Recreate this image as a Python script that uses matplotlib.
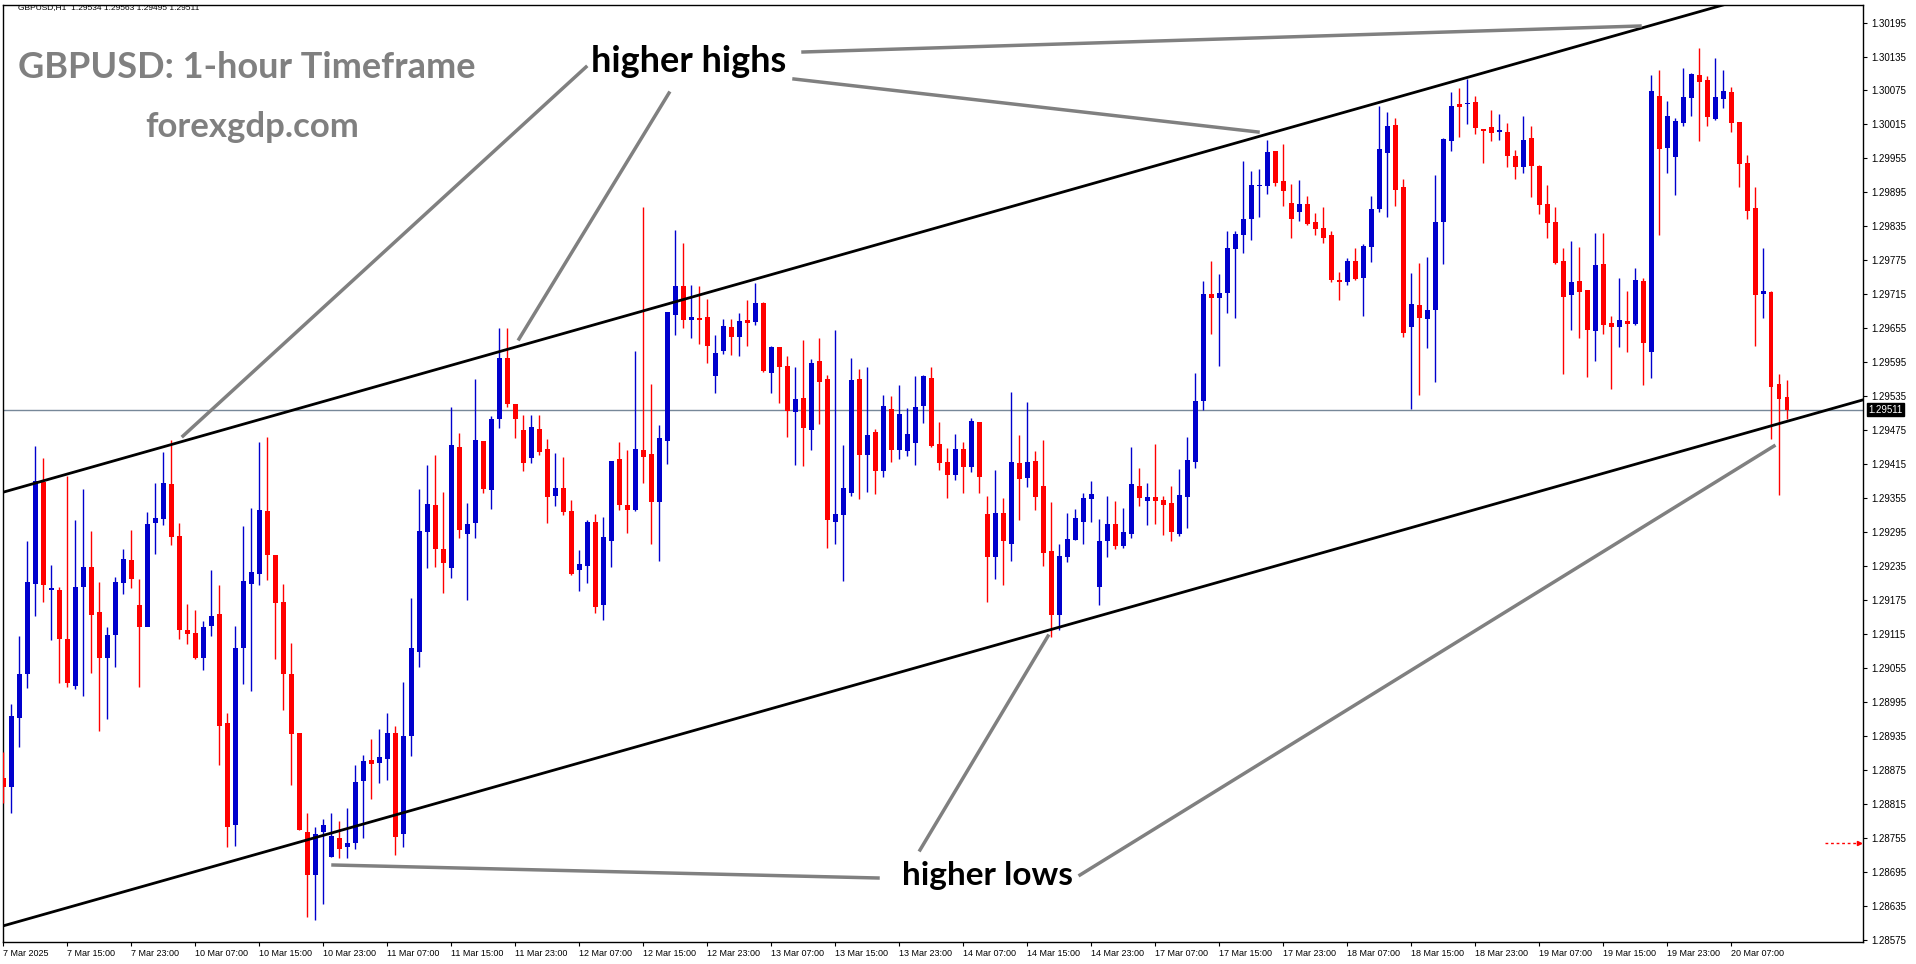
import matplotlib
matplotlib.use("Agg")
import matplotlib.pyplot as plt
from matplotlib.lines import Line2D
import numpy as np

# OHLC in units of 1e-5 above 1.0 (e.g. 29511 -> 1.29511), hourly GBPUSD
opens = [28860,28844,28966,29044,29203,29383,29192,29192,29106,29024,
29198,29233,29153,29072,29113,29205,29245,29166,29127,29311,
29318,29380,29288,29122,29117,29072,29129,29150,28957,28777,
29090,29203,29221,29332,29254,29171,29044,28941,28766,28690,
28766,28722,28754,28738,28746,28855,28892,28888,28895,28941,
28762,28934,29084,29295,29343,29265,29231,29445,29292,29311,
29456,29369,29495,29603,29522,29476,29426,29477,29442,29359,
29373,29332,29228,29235,29313,29166,29279,29424,29343,29334,
29440,29433,29348,29456,29679,29730,29670,29673,29675,29571,
29614,29657,29640,29670,29666,29700,29576,29622,29589,29507,
29532,29476,29598,29566,29313,29325,29364,29566,29431,29472,
29403,29513,29440,29438,29453,29518,29568,29451,29419,29396,
29442,29410,29490,29327,29251,29329,29274,29417,29391,29421,
29377,29262,29148,29251,29281,29313,29354,29198,29279,29309,
29270,29292,29377,29350,29357,29352,29346,29292,29357,29419,
29527,29716,29709,29718,29795,29820,29848,29906,29906,29968,
29915,29877,29861,29875,29843,29832,29820,29741,29737,29774,
29744,29799,29866,29965,30014,29905,29658,29696,29672,29688,
29843,29986,30051,30051,30055,30006,30011,30002,30002,29960,
29940,29991,29942,29875,29843,29774,29713,29739,29723,29650,
29769,29665,29658,29668,29663,29739,29613,30066,29974,29958,
30018,30062,30103,30094,30025,30060,30073,30020,29947,29868,
29716,29719,29557,29534]
highs = [28906,28992,29111,29279,29447,29426,29237,29198,29394,29316,
29371,29297,29207,29127,29215,29265,29299,29212,29330,29382,
29437,29458,29311,29168,29157,29138,29228,29201,28975,29129,
29306,29338,29454,29463,29254,29203,29099,28941,28799,28775,
28789,28798,28785,28808,28884,28902,28930,28948,28975,28952,
29030,29178,29371,29414,29431,29366,29516,29470,29346,29566,
29456,29500,29656,29656,29522,29502,29502,29502,29460,29435,
29428,29352,29263,29316,29327,29322,29421,29454,29440,29614,
29870,29557,29484,29683,29828,29806,29732,29729,29707,29644,
29672,29672,29682,29705,29735,29702,29624,29622,29606,29587,
29635,29601,29638,29573,29652,29449,29603,29583,29587,29477,
29537,29536,29555,29515,29571,29573,29587,29490,29444,29469,
29454,29497,29490,29359,29405,29355,29543,29467,29525,29439,
29458,29348,29274,29329,29336,29364,29385,29318,29359,29350,
29338,29446,29408,29382,29451,29359,29377,29407,29463,29576,
29739,29774,29751,29827,29827,29951,29933,29936,29988,29968,
29981,29910,29917,29889,29859,29869,29827,29755,29779,29797,
29804,29889,30048,30037,30027,29919,29753,29771,29781,29926,
29991,30073,30080,30096,30066,30006,30041,30034,30018,29970,
30030,30013,29944,29908,29869,29797,29809,29799,29723,29824,
29824,29677,29744,29721,29762,29744,30103,30111,30057,30027,
30115,30106,30150,30101,30133,30111,30081,30020,29961,29905,
29797,29721,29575,29563]
lows = [28817,28798,28915,29019,29146,29171,29104,29028,29022,29017,
29005,29047,28943,28964,29056,29185,29196,29022,29139,29256,
29307,29272,29106,29097,29070,29051,29111,28883,28738,28741,
29026,29015,29201,29210,29070,28980,28849,28768,28615,28610,
28638,28722,28720,28720,28736,28754,28824,28851,28858,28725,
28738,28900,29056,29231,29233,29187,29214,29284,29175,29284,
29364,29336,29479,29516,29461,29403,29417,29431,29311,29341,
29325,29219,29191,29205,29152,29139,29233,29334,29293,29332,
29382,29274,29244,29415,29644,29656,29638,29628,29594,29541,
29610,29608,29606,29624,29661,29578,29541,29523,29463,29414,
29412,29440,29486,29267,29274,29209,29359,29354,29366,29362,
29393,29419,29424,29430,29414,29488,29446,29405,29356,29387,
29364,29401,29364,29171,29212,29201,29244,29316,29375,29334,
29235,29110,29122,29242,29281,29274,29313,29166,29251,29265,
29267,29284,29341,29307,29309,29290,29279,29288,29302,29408,
29511,29645,29589,29682,29673,29788,29811,29852,29892,29906,
29871,29815,29845,29838,29820,29806,29737,29705,29732,29740,
29677,29772,29861,29852,29871,29640,29513,29537,29620,29560,
29769,29968,29993,30016,29998,29947,29986,29988,29940,29919,
29930,29887,29857,29815,29769,29575,29652,29638,29569,29598,
29645,29548,29622,29613,29661,29555,29568,29820,29930,29891,
30013,30030,29986,30013,30023,30044,30002,29905,29848,29624,
29673,29460,29361,29495]
closes = [28844,28971,29044,29207,29385,29201,29196,29106,29028,29198,
29233,29148,29072,29113,29207,29247,29212,29127,29309,29320,
29382,29286,29122,29115,29072,29127,29146,28953,28775,29090,
29208,29224,29334,29254,29169,29044,28939,28768,28690,28762,
28777,28759,28736,28746,28853,28890,28886,28897,28941,28757,
28934,29090,29297,29345,29265,29240,29449,29299,29309,29458,
29371,29495,29603,29522,29495,29417,29481,29437,29357,29373,
29330,29221,29238,29313,29162,29286,29421,29343,29334,29442,
29428,29348,29461,29683,29729,29670,29675,29670,29624,29612,
29659,29640,29668,29665,29700,29580,29622,29587,29509,29530,
29479,29594,29560,29316,29327,29373,29564,29431,29467,29403,
29518,29440,29504,29469,29516,29571,29447,29417,29396,29442,
29410,29492,29393,29251,29329,29279,29419,29389,29419,29357,
29258,29148,29253,29283,29320,29355,29362,29279,29309,29270,
29295,29380,29355,29357,29350,29343,29295,29361,29422,29527,
29716,29709,29718,29797,29822,29848,29908,29908,29967,29912,
29898,29848,29875,29839,29831,29815,29741,29737,29774,29742,
29801,29866,29972,30013,29900,29647,29698,29673,29688,29843,
29990,30048,30046,30053,30009,30004,30000,30004,29960,29940,
29988,29942,29873,29841,29771,29711,29737,29719,29652,29767,
29661,29658,29670,29663,29741,29629,30074,29972,30030,30021,
30064,30104,30090,30028,30064,30074,30018,29945,29862,29714,
29721,29552,29530,29511]

x_labels = ["7 Mar 2025","7 Mar 15:00","7 Mar 23:00","10 Mar 07:00","10 Mar 15:00",
"10 Mar 23:00","11 Mar 07:00","11 Mar 15:00","11 Mar 23:00","12 Mar 07:00",
"12 Mar 15:00","12 Mar 23:00","13 Mar 07:00","13 Mar 15:00","13 Mar 23:00",
"14 Mar 07:00","14 Mar 15:00","14 Mar 23:00","17 Mar 07:00","17 Mar 15:00",
"17 Mar 23:00","18 Mar 07:00","18 Mar 15:00","18 Mar 23:00","19 Mar 07:00",
"19 Mar 15:00","19 Mar 23:00","20 Mar 07:00"]
label_step = 8
y_ticks = [1.28575 + 0.0006 * k for k in range(28)]
last_price = 1.29511
upper_channel = [(-0.4, 1.29364), (205.0, 1.30186)]
lower_channel = [(-0.4, 1.28598), (224.6, 1.29497)]

O = 1 + np.array(opens) / 1e5
H = 1 + np.array(highs) / 1e5
L = 1 + np.array(lows) / 1e5
C = 1 + np.array(closes) / 1e5
n = len(O)
idx = np.arange(n)

W, Hh = 1916, 964
fig = plt.figure(figsize=(W / 100, Hh / 100), dpi=100)
fig.patch.set_facecolor("white")
ax = fig.add_axes([3 / W, 1 - 942 / Hh, (1863 - 3) / W, (942 - 5) / Hh])
ax.set_xlim(-0.05, 232.5)
ax.set_ylim(1.28571, 1.30226)

blue = "#0000CD"
red = "#FF0000"
cols = [blue if c >= o else red for o, c in zip(O, C)]
ax.vlines(idx, L, H, colors=cols, linewidth=1.0, zorder=3)
bot = np.minimum(O, C)
hgt = np.maximum(np.abs(C - O), 0.000025)
ax.bar(idx, hgt, bottom=bot, width=0.62, color=cols, linewidth=0, zorder=4)

ax.axhline(last_price, color="#778899", linewidth=1.0, zorder=2)

for (x0, y0), (x1, y1) in (upper_channel, lower_channel):
    s = (y1 - y0) / (x1 - x0)
    xs = np.array([-5, 240])
    ax.plot(xs, y0 + s * (xs - x0), color="black", linewidth=2.0, zorder=5)

ax.plot([227.8, 232.3], [1.28746, 1.28746], color="red", linestyle=(0, (2, 2)), linewidth=1, zorder=5)
ax.plot([232.0], [1.28746], marker=">", color="red", markersize=3, zorder=5)

for sp in ax.spines.values():
    sp.set_color("black")
    sp.set_linewidth(1)
ax.yaxis.tick_right()
ax.set_yticks(y_ticks)
ax.set_yticklabels([f"{v:.5f}" for v in y_ticks], fontsize=7, family="Liberation Sans")
ax.tick_params(axis="y", length=3, pad=3, colors="black")
xt = [i * label_step for i in range(len(x_labels))]
ax.set_xticks(xt)
ax.set_xticklabels(x_labels, fontsize=6.5, ha="left", family="Liberation Sans")
ax.tick_params(axis="x", length=3, pad=2)

ax.annotate(f"{last_price:.5f}", xy=(1.0, last_price), xycoords=("axes fraction", "data"),
            xytext=(4, 0), textcoords="offset points", va="center", ha="left",
            fontsize=7, color="white", family="Liberation Sans",
            bbox=dict(boxstyle="square,pad=0.15", fc="black", ec="black"))

fig.text(18 / W, 1 - 8 / Hh, "GBPUSD,H1  1.29534 1.29563 1.29495 1.29511",
         fontsize=6, va="center", ha="left", color="black", family="Liberation Sans")

fig.text(18 / W, 1 - 68 / Hh, "GBPUSD: 1-hour Timeframe", fontsize=26, fontweight="bold",
         color="#808080", va="center", ha="left", family="Lato")
fig.text(252 / W, 1 - 127 / Hh, "forexgdp.com", fontsize=25, fontweight="bold",
         color="#808080", va="center", ha="center", family="Lato")
fig.text(689 / W, 1 - 62 / Hh, "higher highs", fontsize=26, fontweight="bold",
         color="black", va="center", ha="center", family="Lato")
fig.text(988 / W, 1 - 876 / Hh, "higher lows", fontsize=24, fontweight="bold",
         color="black", va="center", ha="center", family="Lato")

pointers = [((586, 67), (183, 436)), ((669, 93), (519, 339)), ((794, 79), (1258, 132)),
            ((803, 52), (1640, 26)), ((333, 865), (878, 878)), ((920, 850), (1048, 636)),
            ((1080, 875), (1774, 446))]
for (xa, ya), (xb, yb) in pointers:
    fig.add_artist(Line2D([xa / W, xb / W], [1 - ya / Hh, 1 - yb / Hh],
                          color="#808080", linewidth=2.5, transform=fig.transFigure, zorder=10))

fig.savefig("out.png", dpi=100, facecolor="white")
